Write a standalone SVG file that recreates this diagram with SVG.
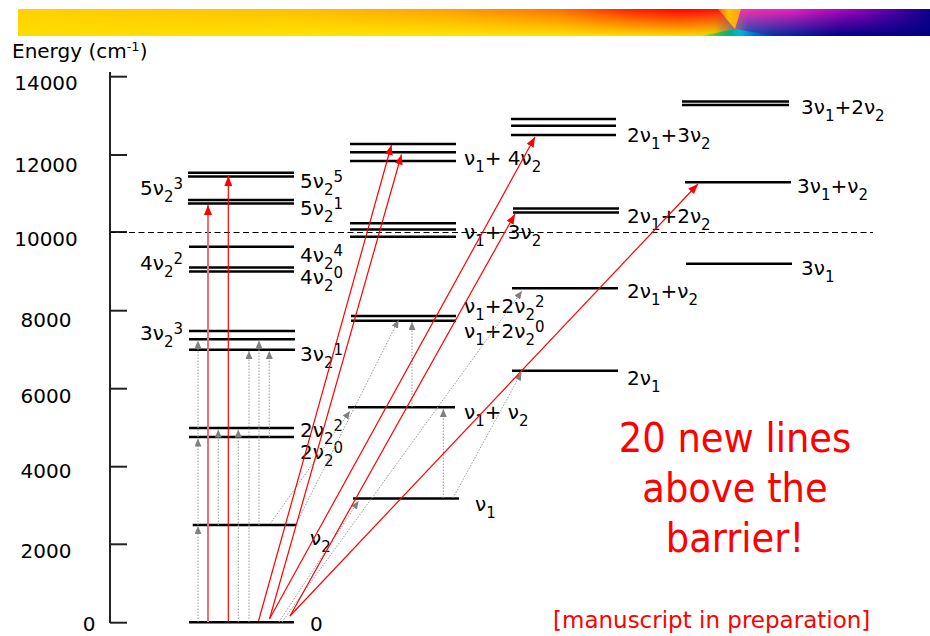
<svg xmlns="http://www.w3.org/2000/svg" width="930" height="636" viewBox="0 0 930 636">
<style>
.lv{stroke:#000;stroke-width:2.4;fill:none}
.lbl{font-family:"DejaVu Sans",Verdana,sans-serif;font-size:20px;fill:#000}
.s{font-size:15px}
.tick{font-family:"DejaVu Sans",Verdana,sans-serif;font-size:20px;fill:#000;text-anchor:middle}
.ax{stroke:#222;stroke-width:2;fill:none}
.red{stroke:#ff0000;stroke-width:1.2;fill:none;marker-end:url(#ahr)}
.redl{stroke:#f07070;stroke-width:2;fill:none;marker-end:url(#ahr)}
.dot{stroke:#9a9a9a;stroke-width:1;stroke-dasharray:1.5 1.5;fill:none;marker-end:url(#ahg)}
.big{font-family:"DejaVu Sans Condensed","DejaVu Sans",sans-serif;font-stretch:condensed;font-size:41px;fill:#ff0000;text-anchor:middle}
.note{font-family:"DejaVu Sans",Verdana,sans-serif;font-size:23px;fill:#ff0000}
</style>
<defs>
<marker id="ahr" markerUnits="userSpaceOnUse" markerWidth="10" markerHeight="8" refX="10" refY="4" orient="auto"><path d="M0,0 L10,4 L0,8 z" fill="#ff0000"/></marker>
<marker id="ahg" markerUnits="userSpaceOnUse" markerWidth="8" markerHeight="7" refX="8" refY="3.5" orient="auto"><path d="M0,0 L8,3.5 L0,7 z" fill="#808080"/></marker>
<linearGradient id="gTop" gradientUnits="userSpaceOnUse" x1="18" y1="0" x2="930" y2="0">
<stop offset="0" stop-color="#ffd200"/>
<stop offset="0.309" stop-color="#ffc000"/>
<stop offset="0.474" stop-color="#ffa000"/>
<stop offset="0.594" stop-color="#ff7000"/>
<stop offset="0.671" stop-color="#ff2000"/>
<stop offset="0.726" stop-color="#ff0000"/>
<stop offset="0.768" stop-color="#ff1010"/>
<stop offset="0.79" stop-color="#ff30a0"/>
<stop offset="0.846" stop-color="#f020c0"/>
<stop offset="0.923" stop-color="#9000b8"/>
<stop offset="1" stop-color="#10008a"/>
</linearGradient>
<linearGradient id="gBot" gradientUnits="userSpaceOnUse" x1="18" y1="0" x2="930" y2="0">
<stop offset="0" stop-color="#ffdc00"/>
<stop offset="0.5" stop-color="#ffe600"/>
<stop offset="0.65" stop-color="#ffe000"/>
<stop offset="0.74" stop-color="#ffd800"/>
<stop offset="0.765" stop-color="#e8e000"/>
<stop offset="0.8" stop-color="#0050c0"/>
<stop offset="0.83" stop-color="#0030a0"/>
<stop offset="0.9" stop-color="#000088"/>
<stop offset="1" stop-color="#000080"/>
</linearGradient>
<linearGradient id="vfade" gradientUnits="userSpaceOnUse" x1="0" y1="9" x2="0" y2="36">
<stop offset="0" stop-color="#fff" stop-opacity="0"/>
<stop offset="1" stop-color="#fff" stop-opacity="1"/>
</linearGradient>
<linearGradient id="gFan" gradientUnits="userSpaceOnUse" x1="700" y1="0" x2="775" y2="0">
<stop offset="0" stop-color="#d8e400"/>
<stop offset="0.24" stop-color="#40c040"/>
<stop offset="0.4" stop-color="#00b080"/>
<stop offset="0.53" stop-color="#00b8d8"/>
<stop offset="0.73" stop-color="#0070d0"/>
<stop offset="1" stop-color="#0030a0"/>
</linearGradient>
<linearGradient id="gSeam" gradientUnits="userSpaceOnUse" x1="718" y1="0" x2="741" y2="0">
<stop offset="0" stop-color="#ff6000"/>
<stop offset="0.45" stop-color="#ffc000"/>
<stop offset="1" stop-color="#ffa020"/>
</linearGradient>
<mask id="mBot"><rect x="18" y="9" width="912" height="27" fill="url(#vfade)"/></mask>
</defs>

<g id="banner">
<rect x="18" y="9" width="912" height="27" fill="url(#gTop)"/>
<rect x="18" y="9" width="912" height="27" fill="url(#gBot)" mask="url(#mBot)"/>
<polygon points="735,29 718,9 741,9" fill="url(#gSeam)"/>
<polygon points="735,29 700,36 775,36" fill="url(#gFan)"/>
</g>

<g id="axis">
<text class="lbl" x="12" y="58">Energy (cm<tspan style="font-size:13px" dy="-7">-1</tspan><tspan dy="7">)</tspan></text>
<line class="ax" x1="110" y1="72" x2="110" y2="623"/>
<line class="ax" x1="110" y1="76.7" x2="127" y2="76.7"/>
<line class="ax" x1="110" y1="155" x2="127" y2="155"/>
<line class="ax" x1="110" y1="232" x2="127" y2="232"/>
<line class="ax" x1="110" y1="310.7" x2="127" y2="310.7"/>
<line class="ax" x1="110" y1="388.7" x2="127" y2="388.7"/>
<line class="ax" x1="110" y1="466.7" x2="127" y2="466.7"/>
<line class="ax" x1="110" y1="544.3" x2="127" y2="544.3"/>
<line class="ax" x1="110" y1="622.7" x2="127" y2="622.7"/>
<text class="tick" x="46" y="90">14000</text>
<text class="tick" x="46" y="172">12000</text>
<text class="tick" x="46" y="246">10000</text>
<text class="tick" x="46" y="327">8000</text>
<text class="tick" x="46" y="403">6000</text>
<text class="tick" x="46" y="478">4000</text>
<text class="tick" x="46" y="558">2000</text>
<text class="tick" x="89" y="631">0</text>
</g>

<g id="ground">
<line class="lv" x1="189" y1="622.3" x2="294" y2="622.3"/>
<text class="lbl" x="310" y="631">0</text>
</g>
<g id="nu2">
<line class="lv" x1="192.7" y1="525" x2="296" y2="525"/>
<text class="lbl" x="310" y="545">ν<tspan class="s" dy="7">2</tspan></text>
</g>
<g id="2nu2">
<line class="lv" x1="189" y1="428" x2="294" y2="428"/>
<line class="lv" x1="189" y1="437" x2="294" y2="437"/>
<text class="lbl" x="300" y="437">2ν<tspan class="s" dy="7">2</tspan><tspan class="s" dy="-13">2</tspan></text>
<text class="lbl" x="300" y="459">2ν<tspan class="s" dy="7">2</tspan><tspan class="s" dy="-13">0</tspan></text>
</g>
<g id="3nu2">
<line class="lv" x1="189" y1="331" x2="295" y2="331"/>
<line class="lv" x1="189" y1="339.3" x2="295" y2="339.3"/>
<line class="lv" x1="189" y1="349.7" x2="295" y2="349.7"/>
<text class="lbl" x="140" y="340">3ν<tspan class="s" dy="7">2</tspan><tspan class="s" dy="-13">3</tspan></text>
<text class="lbl" x="300" y="361">3ν<tspan class="s" dy="7">2</tspan><tspan class="s" dy="-13">1</tspan></text>
</g>
<g id="4nu2">
<line class="lv" x1="189" y1="246.7" x2="294" y2="246.7"/>
<line class="lv" x1="189" y1="267.5" x2="294" y2="267.5"/>
<line class="lv" x1="189" y1="271.5" x2="294" y2="271.5"/>
<text class="lbl" x="140" y="270">4ν<tspan class="s" dy="7">2</tspan><tspan class="s" dy="-13">2</tspan></text>
<text class="lbl" x="300" y="262">4ν<tspan class="s" dy="7">2</tspan><tspan class="s" dy="-13">4</tspan></text>
<text class="lbl" x="300" y="284">4ν<tspan class="s" dy="7">2</tspan><tspan class="s" dy="-13">0</tspan></text>
</g>
<g id="5nu2">
<line class="lv" x1="188" y1="172.7" x2="294" y2="172.7"/>
<line class="lv" x1="188" y1="176.5" x2="294" y2="176.5"/>
<line class="lv" x1="188" y1="200" x2="294" y2="200"/>
<line class="lv" x1="188" y1="203.5" x2="294" y2="203.5"/>
<text class="lbl" x="140" y="195">5ν<tspan class="s" dy="7">2</tspan><tspan class="s" dy="-13">3</tspan></text>
<text class="lbl" x="300" y="188">5ν<tspan class="s" dy="7">2</tspan><tspan class="s" dy="-13">5</tspan></text>
<text class="lbl" x="300" y="215">5ν<tspan class="s" dy="7">2</tspan><tspan class="s" dy="-13">1</tspan></text>
</g>

<g id="nu1">
<line class="lv" x1="353" y1="498.5" x2="459" y2="498.5"/>
<text class="lbl" x="475" y="511">ν<tspan class="s" dy="7">1</tspan></text>
</g>
<g id="nu1-nu2">
<line class="lv" x1="348" y1="407.3" x2="455" y2="407.3"/>
<text class="lbl" x="464" y="419">ν<tspan class="s" dy="7">1</tspan><tspan dy="-7">+ ν</tspan><tspan class="s" dy="7">2</tspan></text>
</g>
<g id="nu1-2nu2">
<line class="lv" x1="351" y1="316" x2="456" y2="316"/>
<line class="lv" x1="351" y1="320.7" x2="456" y2="320.7"/>
<text class="lbl" x="464" y="313">ν<tspan class="s" dy="7">1</tspan><tspan dy="-7">+2ν</tspan><tspan class="s" dy="7">2</tspan><tspan class="s" dy="-13">2</tspan></text>
<text class="lbl" x="464" y="338">ν<tspan class="s" dy="7">1</tspan><tspan dy="-7">+2ν</tspan><tspan class="s" dy="7">2</tspan><tspan class="s" dy="-13">0</tspan></text>
</g>
<g id="nu1-3nu2">
<line class="lv" x1="350" y1="223.3" x2="456" y2="223.3"/>
<line class="lv" x1="350" y1="229.5" x2="456" y2="229.5"/>
<line class="lv" x1="350" y1="236.7" x2="456" y2="236.7"/>
<text class="lbl" x="464" y="239">ν<tspan class="s" dy="7">1</tspan><tspan dy="-7">+ 3ν</tspan><tspan class="s" dy="7">2</tspan></text>
</g>
<g id="nu1-4nu2">
<line class="lv" x1="350" y1="144" x2="456" y2="144"/>
<line class="lv" x1="350" y1="152.3" x2="456" y2="152.3"/>
<line class="lv" x1="350" y1="161" x2="456" y2="161"/>
<text class="lbl" x="464" y="165">ν<tspan class="s" dy="7">1</tspan><tspan dy="-7">+ 4ν</tspan><tspan class="s" dy="7">2</tspan></text>
</g>

<g id="2nu1">
<line class="lv" x1="512" y1="370.7" x2="618" y2="370.7"/>
<text class="lbl" x="627" y="385">2ν<tspan class="s" dy="7">1</tspan></text>
</g>
<g id="2nu1-nu2">
<line class="lv" x1="512" y1="288.3" x2="618" y2="288.3"/>
<text class="lbl" x="627" y="298">2ν<tspan class="s" dy="7">1</tspan><tspan dy="-7">+ν</tspan><tspan class="s" dy="7">2</tspan></text>
</g>
<g id="2nu1-2nu2">
<line class="lv" x1="513" y1="208.5" x2="619" y2="208.5"/>
<line class="lv" x1="513" y1="212.5" x2="619" y2="212.5"/>
<text class="lbl" x="627" y="223">2ν<tspan class="s" dy="7">1</tspan><tspan dy="-7">+2ν</tspan><tspan class="s" dy="7">2</tspan></text>
</g>
<g id="2nu1-3nu2">
<line class="lv" x1="511" y1="119" x2="616" y2="119"/>
<line class="lv" x1="511" y1="125.7" x2="616" y2="125.7"/>
<line class="lv" x1="511" y1="135" x2="616" y2="135"/>
<text class="lbl" x="627" y="142">2ν<tspan class="s" dy="7">1</tspan><tspan dy="-7">+3ν</tspan><tspan class="s" dy="7">2</tspan></text>
</g>

<g id="3nu1">
<line class="lv" x1="686" y1="263.7" x2="792" y2="263.7"/>
<text class="lbl" x="801" y="275">3ν<tspan class="s" dy="7">1</tspan></text>
</g>
<g id="3nu1-nu2">
<line class="lv" x1="685" y1="182.3" x2="791" y2="182.3"/>
<text class="lbl" x="797" y="193">3ν<tspan class="s" dy="7">1</tspan><tspan dy="-7">+ν</tspan><tspan class="s" dy="7">2</tspan></text>
</g>
<g id="3nu1-2nu2">
<line class="lv" x1="682" y1="101.5" x2="789" y2="101.5"/>
<line class="lv" x1="682" y1="105" x2="789" y2="105"/>
<text class="lbl" x="801" y="114">3ν<tspan class="s" dy="7">1</tspan><tspan dy="-7">+2ν</tspan><tspan class="s" dy="7">2</tspan></text>
</g>

<g id="barrier">
<line x1="110" y1="232.5" x2="873" y2="232.5" stroke="#000" stroke-width="1.1" stroke-dasharray="6 3.5"/>
</g>

<g id="connectors">
<line class="dot" x1="198" y1="622" x2="198" y2="526"/>
<line class="dot" x1="198" y1="525" x2="198" y2="438.5"/>
<line class="dot" x1="198" y1="437" x2="198" y2="340.5"/>
<line class="dot" x1="218.3" y1="525" x2="218.3" y2="429.5"/>
<line class="dot" x1="238.3" y1="622" x2="238.3" y2="429.5"/>
<line class="dot" x1="249" y1="622" x2="249" y2="351"/>
<line class="dot" x1="259" y1="525" x2="259" y2="340.5"/>
<line class="dot" x1="269.3" y1="437" x2="269.3" y2="351"/>
<line class="dot" x1="270" y1="524" x2="350" y2="411"/>
<line class="dot" x1="296" y1="524" x2="398.5" y2="320"/>
<line class="dot" x1="279" y1="622" x2="358.5" y2="501"/>
<line class="dot" x1="282" y1="622" x2="522" y2="291"/>
<line class="dot" x1="443.3" y1="498" x2="443.3" y2="409"/>
<line class="dot" x1="412" y1="407" x2="412" y2="322"/>
<line class="dot" x1="453" y1="498" x2="521.5" y2="372.5"/>
<line class="redl" x1="208" y1="622" x2="208" y2="205"/>
<line class="red" x1="228.3" y1="622" x2="228.3" y2="176"/>
<line class="red" x1="258.5" y1="621" x2="391.5" y2="145"/>
<line class="red" x1="269.5" y1="619" x2="401.5" y2="154.5"/>
<line class="red" x1="269.5" y1="619" x2="535" y2="137"/>
<line class="red" x1="290" y1="616" x2="515" y2="214"/>
<line class="red" x1="290" y1="616" x2="698" y2="184"/>
</g>

<g id="annotation">
<text class="big" x="735" y="452">20 new lines</text>
<text class="big" x="735" y="502">above the</text>
<text class="big" x="735" y="552">barrier!</text>
<text class="note" x="553" y="628">[manuscript in preparation]</text>
</g>
</svg>
